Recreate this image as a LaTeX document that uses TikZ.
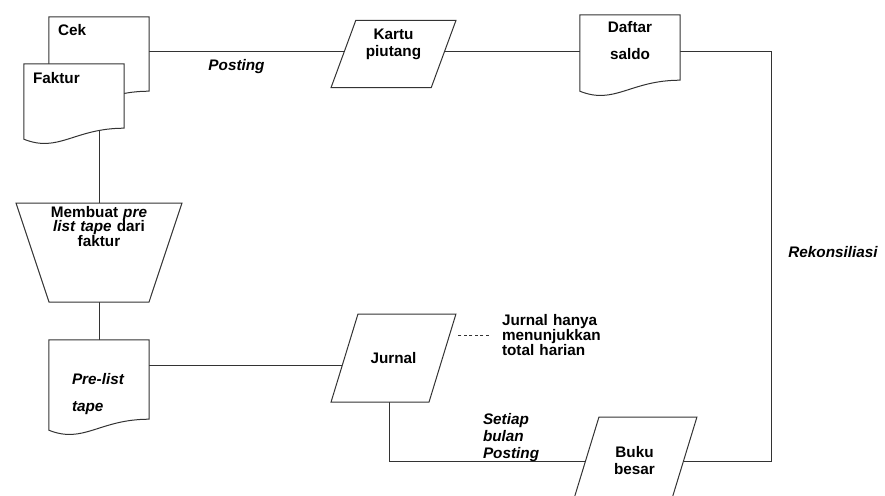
\documentclass[tikz,border=0pt]{standalone}
\usepackage{fontspec}
\setmainfont{Liberation Sans}
\usetikzlibrary{shapes.geometric, positioning, backgrounds}
\tikzstyle{base} = [font=\fontsize{15.3}{17}\selectfont\bfseries, text=black, inner ysep=0pt]
\tikzstyle{outline} = [draw=black!80, line width=1pt, fill=white]
\tikzstyle{docu} = [base, rectangle, minimum width=100pt, align=left, append after command={\pgfextra{\draw [outline] (\tikzlastnode.north west) -- (\tikzlastnode.north east) -- (\tikzlastnode.south east) .. controls +(-50pt,0pt) and ([xshift=35pt,yshift=-25pt]\tikzlastnode.south west) .. ([yshift=-11pt]\tikzlastnode.south west) -- cycle;}}]
\tikzstyle{manual} = [base, outline, trapezium, shape border rotate=180, trapezium angle=71.6, trapezium stretches=true, minimum width=166pt, minimum height=99pt, text width=100pt, inner xsep=0pt, align=center]
\tikzstyle{io} = [base, outline, trapezium, trapezium left angle=74, trapezium right angle=106, trapezium stretches=true, minimum width=125pt, minimum height=88pt, text width=60pt, align=center]
\tikzstyle{note} = [base, align=left]
\tikzstyle{link} = [draw=black!80, line width=1pt]

\begin{document}
\begin{tikzpicture}[x=1pt, y=1pt, on grid]
        \useasboundingbox (0,0) rectangle (885,-495);
        % Nodes
        \node (cek) [docu, text width=82pt, inner xsep=9pt, text height=19pt, text depth=55pt] at (99,-54) {Cek};
        \node (faktur) [docu, text width=82pt, inner xsep=9pt, text height=19pt, text depth=45pt, below left=42pt and 25pt of cek] {Faktur};
        \node (membuat) [manual, font=\fontsize{15.3}{14.5}\selectfont\bfseries, text height=14pt, text depth=85pt, below=198.5pt of cek] {Membuat \textit{pre}\\\textit{list tape} dari\\faktur};
        \node (prelist) [docu, font=\fontsize{15.3}{27}\selectfont\bfseries\itshape, text width=54pt, inner xsep=23pt, text height=44pt, text depth=35pt, below=127pt of membuat] {Pre-list\\tape};

        \node (kartu) [io, trapezium left angle=72, trapezium right angle=108, minimum height=67pt, text height=19pt, text depth=48pt, right=294.5pt of cek] {Kartu\\piutang};
        \node (daftar) [docu, font=\fontsize{15.3}{27}\selectfont\bfseries, text width=100pt, inner xsep=0pt, align=center, text height=18pt, text depth=47pt, above right=6.5pt and 236.5pt of kartu] {Daftar\\saldo};
        \coordinate [right=141pt of daftar] (rekon);

        \node (jurnal) [io, text height=49pt, text depth=39pt, above right=21.5pt and 294.5pt of prelist] {Jurnal};
        \node (buku) [io, text height=40pt, text depth=48pt, below right=103pt and 241pt of jurnal] {Buku\\besar};

        \node (note) [note, font=\fontsize{15.3}{15}\selectfont\bfseries, text width=100pt, inner xsep=13pt, above right=23pt and 158.5pt of jurnal] {Jurnal hanya\\menunjukkan\\total harian};
        \node (setiap) [note, font=\fontsize{15.3}{17}\selectfont\bfseries\itshape, text width=60pt, inner xsep=0pt, below right=80pt and 119.5pt of jurnal] {Setiap\\bulan\\Posting};
        \node (posting) [note, font=\fontsize{15.3}{17}\selectfont\bfseries\itshape, below right=13pt and 137.5pt of cek] {Posting};
        \node (rekonsiliasi) [note, font=\fontsize{15.3}{17}\selectfont\bfseries\itshape, right=734pt of membuat] {Rekonsiliasi};

        % Connections
        \begin{scope}[on background layer]
        \draw [link] ([yshift=2pt]cek.center) -- ([yshift=2pt]cek.center -| rekon) |- (buku);
        \draw [link] (membuat |- faktur) -- (prelist);
        \draw [link] ([yshift=-7pt]jurnal.center -| prelist.center) -- ([yshift=-7pt]jurnal.center);
        \draw [link] ([xshift=-4pt]jurnal.center) |- (buku);
        \draw [link, line width=0.7pt, dash pattern=on 3pt off 2.5pt] (note.west) -- (note.west -| jurnal.top right corner);
        \end{scope}
\end{tikzpicture}
\end{document}
